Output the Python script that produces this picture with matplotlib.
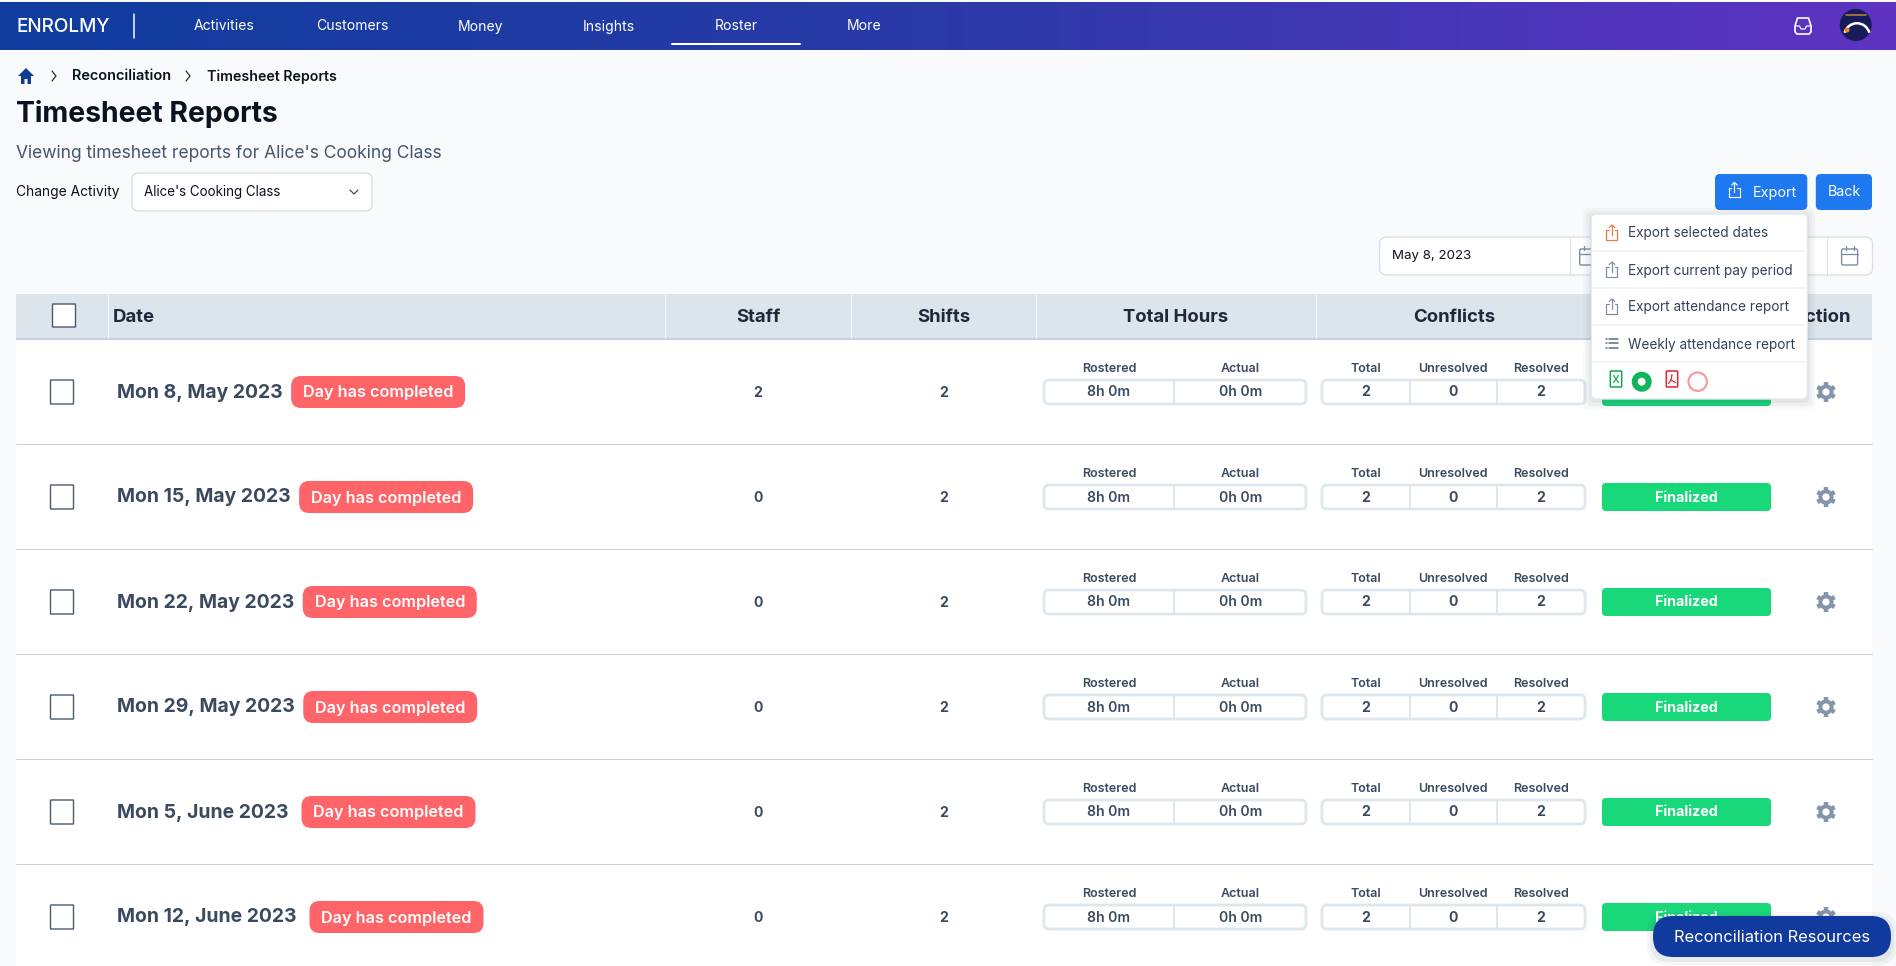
#!/usr/bin/env python3
import numpy as np
import matplotlib
matplotlib.use("Agg")
import matplotlib.pyplot as plt
from matplotlib.patches import FancyBboxPatch, Rectangle, Circle, Polygon, Wedge
from matplotlib.colors import LinearSegmentedColormap

plt.rcParams["font.family"] = ["Inter", "DejaVu Sans"]

W, H = 1896, 966

nav_items = ["Activities", "Customers", "Money", "Insights", "Roster", "More"]
crumbs = ["Reconciliation", "Timesheet Reports"]
columns = ["Date", "Staff", "Shifts", "Total Hours", "Conflicts", "Action"]
export_menu = ["Export selected dates", "Export current pay period",
               "Export attendance report", "Weekly attendance report"]

dates = ["Mon 8, May 2023", "Mon 15, May 2023", "Mon 22, May 2023",
         "Mon 29, May 2023", "Mon 5, June 2023", "Mon 12, June 2023"]
staff = [2, 0, 0, 0, 0, 0]
shifts = [2, 2, 2, 2, 2, 2]
rostered = ["8h 0m"] * 6
actual = ["0h 0m"] * 6
conflicts_total = [2, 2, 2, 2, 2, 2]
conflicts_unresolved = [0, 0, 0, 0, 0, 0]
conflicts_resolved = [2, 2, 2, 2, 2, 2]

BG = "#f8fafc"
DARK = "#0b1220"
SLATE = "#3b4a5f"
BLUE = "#1e78f0"
NAVY = "#103a9e"
LINE = "#c6d4e0"
BOX = "#dfe7ee"
RIGHT = 1872

fig = plt.figure(figsize=(W / 100, H / 100), dpi=100, facecolor=BG)
ax = fig.add_axes([0, 0, 1, 1])
ax.axis("off")


def fs(px):
    return px * 0.72


def rbox(x0, y0, x1, y1, r, fc, ec="none", lw=0, z=2, alpha=None):
    p = FancyBboxPatch((x0, y0), x1 - x0, y1 - y0, boxstyle=f"round,pad=0,rounding_size={r}",
                       fc=fc, ec=ec, lw=lw, zorder=z, alpha=alpha)
    ax.add_patch(p)
    return p


def txt(x, y, s, px, color=DARK, weight="normal", ha="left", z=5):
    return ax.text(x, y, s, fontsize=fs(px), color=color, fontweight=weight, ha=ha,
                   va="center_baseline", zorder=z)


def line(xs, ys, color, lw=1.0, z=3):
    ax.plot(xs, ys, color=color, lw=lw * 0.72, zorder=z, solid_capstyle="round", solid_joinstyle="round")


def share_icon(cx, cy, color, z=8):
    # tray with arrow going up
    line([cx - 3, cx - 5.5, cx - 5.5, cx + 5.5, cx + 5.5, cx + 3],
         [cy - 2.5, cy - 2.5, cy + 7, cy + 7, cy - 2.5, cy - 2.5], color, 1.2, z)
    line([cx, cx], [cy + 2, cy - 7.5], color, 1.2, z)
    line([cx - 2.8, cx, cx + 2.8], [cy - 5, cy - 7.5, cy - 5], color, 1.2, z)


def calendar_icon(cx, cy, color, z=3):
    rbox(cx - 8, cy - 7, cx + 8, cy + 9, 1.5, "none", color, 1.0, z)
    line([cx - 8, cx + 8], [cy - 2.5, cy - 2.5], color, 1.3, z)
    line([cx - 4, cx - 4], [cy - 10, cy - 6], color, 1.3, z)
    line([cx + 4, cx + 4], [cy - 10, cy - 6], color, 1.3, z)


def gear_icon(cx, cy, color, z=3):
    th = np.linspace(0, 2 * np.pi, 181)[:-1]
    r = np.where(np.cos(6 * (th + np.pi / 6)) > 0.05, 10.0, 7.6)
    ax.add_patch(Polygon(np.c_[cx + r * np.cos(th), cy + r * np.sin(th)], closed=True, fc=color, ec="none", zorder=z))
    ax.add_patch(Circle((cx, cy), 3.6, fc="white", ec="none", zorder=z + 0.1))


# page and nav
ax.add_patch(Rectangle((0, 0), W, H, fc=BG, ec="none", zorder=0))
grad = LinearSegmentedColormap.from_list("nav", ["#0f3d9e", "#2b3aa8", "#5f33c2"])
ax.imshow(np.linspace(0, 1, 256).reshape(1, -1), cmap=grad, extent=(0, W, 50, 2), aspect="auto", zorder=1)
ax.set_xlim(0, W)
ax.set_ylim(H, 0)

txt(16, 25.5, "ENROLMY", 19, "white", "medium")
line([134.5, 134.5], [14, 38], "white", 1.5)
for i, item in enumerate(nav_items):
    txt(224.5 + 128 * i, 25 - (1 if item == "Roster" else 0), item, 14, "white", ha="center")
line([672, 800], [43.7, 43.7], "white", 2)

# inbox icon, avatar
ax.add_patch(Polygon([(1797.5, 18), (1808.5, 18), (1811, 26), (1811, 32), (1809, 34), (1797, 34), (1795, 32), (1795, 26)],
                     closed=True, fc="none", ec="white", lw=1.2, joinstyle="round", zorder=4))
line([1795, 1799.5, 1801, 1805, 1806.5, 1811], [26, 26, 29, 29, 26, 26], "white", 1.2, 4)
ax.add_patch(Circle((1855.7, 25), 16, fc="#181b5a", ec="none", zorder=4))
ax.add_patch(Wedge((1857, 36), 14, 195, 345, width=2.5, fc="white", ec="none", zorder=5))
ax.add_patch(Circle((1847, 30), 2.5, fc="#e8892b", ec="none", zorder=6))
line([1846, 1866], [15, 15], "#b9803f", 1.6, 6)

# breadcrumbs and heading
ax.add_patch(Polygon([(26, 68), (34, 76), (31, 76), (31, 84), (27.5, 84), (27.5, 79), (24.5, 79), (24.5, 84),
                      (21, 84), (21, 76), (18, 76)], closed=True, fc="#0f3d91", ec="none", zorder=3))
line([52, 56, 52], [71, 76, 81], "#1e2a3a", 1.2)
line([186, 190, 186], [71, 76, 81], "#1e2a3a", 1.2)
txt(72, 75, crumbs[0], 14.5, DARK, "semibold")
txt(207, 75, crumbs[1], 14.2, DARK, "semibold")
txt(16, 111, "Timesheet Reports", 28.3, DARK, "bold")
txt(16, 152, "Viewing timesheet reports for Alice's Cooking Class", 17.4, "#46556b")
txt(16, 190.5, "Change Activity", 13.8, DARK)
rbox(132, 173, 372, 211, 7, "white", "#d9e1e8", 1.0)
txt(144, 190.5, "Alice's Cooking Class", 13.4, DARK)
line([350, 354, 358], [190, 194, 190], "#3b4a5f", 1.2)

# buttons
rbox(1715, 174, 1807.3, 210, 5, BLUE)
share_icon(1734.5, 190, "white", 5)
txt(1753, 191, "Export", 14.4, "white")
rbox(1815.8, 174, 1872, 210, 5, BLUE)
txt(1844, 191, "Back", 14.2, "white", ha="center")

# date range
rbox(1379.6, 237, 1872.5, 275, 7, "white", "#d9e1e8", 1.0)
line([1569.6, 1569.6], [237, 275], "#d9e1e8", 1.0)
line([1827.2, 1827.2], [237, 275], "#d9e1e8", 1.0)
txt(1392, 255, "May 8, 2023", 13.3, DARK)
calendar_icon(1587.7, 256, "#7e8ea3")
calendar_icon(1849.6, 256, "#7e8ea3")

# table header
ax.add_patch(Rectangle((16, 294), RIGHT - 16, 44, fc="#dde5ec", ec="none", zorder=1))
ax.add_patch(Rectangle((16, 338), RIGHT - 16, 2, fc="#c5d2df", ec="none", zorder=1))
rbox(52.5, 304, 75.5, 327, 0.5, "white", "#4a5a70", 1.0)
for x in [108.5, 665.5, 851.5, 1036, 1315.6, 1596]:
    line([x, x], [294, 338], "#f2f5f8", 1.0, 2)
header_x = [113, 758, 943.5, 1176, 1454, 1821]
for i, (c, x) in enumerate(zip(columns, header_x)):
    txt(x, 316, c, 18.6, "#1e2a3a", "bold", ha="left" if i == 0 else "center", z=3)

# rows
ax.add_patch(Rectangle((16, 340), RIGHT - 16, H - 340, fc="white", ec="none", zorder=1))
ROW0, PITCH = 391.5, 105
fig.canvas.draw()
rend = fig.canvas.get_renderer()
for i in range(len(dates)):
    yc = ROW0 + PITCH * i
    if i < len(dates) - 1:
        line([16, RIGHT], [yc + 52.5, yc + 52.5], LINE, 1.0, 2)
    rbox(50.5, yc - 11.5, 73.5, yc + 12.5, 0.5, "white", "#4a5a70", 1.0)
    t = txt(117, yc - 1, dates[i], 19.4, SLATE, "bold")
    bb = t.get_window_extent(rend)
    # the J in June runs wider in the original font
    x0 = bb.x1 + (13 if "June" in dates[i] else 8.5)
    rbox(x0, yc - 15.5, x0 + 174, yc + 16.5, 10, "#ff6469")
    txt(x0 + 87, yc, "Day has completed", 16.2, "white", "semibold", ha="center")
    txt(758, yc, str(staff[i]), 14, SLATE, "bold", ha="center")
    txt(944, yc, str(shifts[i]), 14, SLATE, "bold", ha="center")

    for label, x in [("Rostered", 1109), ("Actual", 1240.6), ("Total", 1366),
                     ("Unresolved", 1453), ("Resolved", 1540.6)]:
        txt(x, yc - 24, label, 12.5, SLATE, "semibold", ha="center")
    rbox(1044, yc - 11.5, 1306, yc + 12.5, 5, "white", BOX, 2.0)
    line([1174, 1174], [yc - 11, yc + 12], BOX, 2.0)
    rbox(1322, yc - 11.5, 1585, yc + 12.5, 5, "white", BOX, 2.0)
    line([1410, 1410], [yc - 11, yc + 12], BOX, 2.0)
    line([1497, 1497], [yc - 11, yc + 12], BOX, 2.0)
    txt(1109, yc - 0.5, rostered[i], 14, SLATE, "semibold", ha="center")
    txt(1240.6, yc - 0.5, actual[i], 14, SLATE, "semibold", ha="center")
    txt(1366, yc - 0.5, str(conflicts_total[i]), 14, SLATE, "bold", ha="center")
    txt(1453, yc - 0.5, str(conflicts_unresolved[i]), 14, SLATE, "bold", ha="center")
    txt(1540.6, yc - 0.5, str(conflicts_resolved[i]), 14, SLATE, "bold", ha="center")

    rbox(1602, yc - 13.5, 1771, yc + 14.5, 4, "#19d87a")
    txt(1686, yc - 0.5, "Finalized", 14.3, "white", "bold", ha="center")
    gear_icon(1826, yc + 0.5, "#8494aa")

# export popup
for grow, a in [(8, 0.03), (5, 0.04), (2, 0.05)]:
    rbox(1591.3 - grow, 214 - grow + 2, 1807.3 + grow, 399 + grow + 2, 6, "#1e2a3a", z=9, alpha=a)
rbox(1591.3, 214, 1807.3, 399, 5, "white", "#e4e9ef", 1.0, z=10)
for y in [251, 288, 325, 362]:
    line([1593, 1805.5], [y, y], "#eef1f5", 1.5, 11)
icon_colors = ["#f0743e", "#7e8ea3", "#7e8ea3"]
for i, s in enumerate(export_menu):
    y = 232 + 37 * i
    txt(1628, y, s, 13.6, "#33425a", z=12)
    if i < 3:
        share_icon(1612, y + 0.5, icon_colors[i], 12)
    else:
        for dy in [-4.5, 0, 4.5]:
            line([1606, 1607], [y + dy, y + dy], "#5a6a80", 1.5, 12)
            line([1609.5, 1618], [y + dy, y + dy], "#5a6a80", 1.5, 12)

# file type pickers
rbox(1610.3, 371, 1621.7, 387, 1, "white", "#12a85a", 1.1, 12)
line([1613.5, 1618.5], [375.5, 382.5], "#12a85a", 1.2, 13)
line([1618.5, 1613.5], [375.5, 382.5], "#12a85a", 1.2, 13)
ax.add_patch(Circle((1641.7, 381.7), 7, fc="white", ec="#10b45a", lw=4.3, zorder=12))
rbox(1666.3, 371, 1677.7, 387, 1, "white", "#e0262e", 1.1, 12)
line([1672, 1671, 1668.5], [374.5, 380, 383.5], "#e0262e", 1.2, 13)
line([1671, 1675.5], [380, 382.5], "#e0262e", 1.2, 13)
ax.add_patch(Circle((1697.7, 381.7), 9.2, fc="white", ec="#f79a9e", lw=1.6, zorder=12))

# floating button
for grow, a in [(6, 0.04), (3, 0.06)]:
    rbox(1653 - grow, 916 - grow + 2, 1891 + grow, 957 + grow + 2, 20, "#1e2a3a", z=14, alpha=a)
rbox(1653, 916, 1891, 957, 20, NAVY, z=15)
txt(1772.5, 936.5, "Reconciliation Resources", 16.5, "white", ha="center", z=16)

fig.savefig("out.png", dpi=100, facecolor=BG)
